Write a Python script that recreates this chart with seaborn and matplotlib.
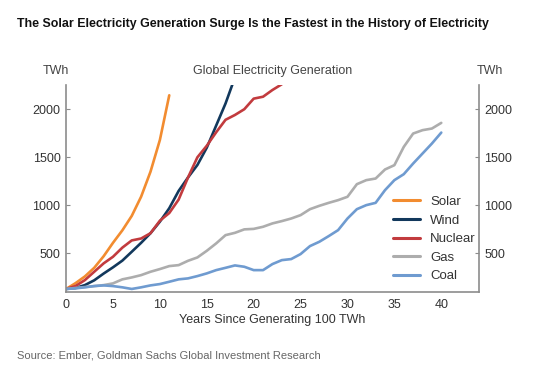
import numpy as np
import pandas as pd
import matplotlib
matplotlib.use("Agg")
import matplotlib.pyplot as plt
import seaborn as sns

# ---- data (TWh, by years since generating 100 TWh) ----
solar = [130, 190, 260, 350, 470, 610, 740, 890, 1090, 1350, 1680, 2145]
wind = [130, 140, 170, 220, 290, 355, 425, 517, 610, 710, 830, 970, 1150,
        1290, 1420, 1600, 1830, 2060, 2330]
nuclear = [130, 160, 222, 309, 396, 465, 560, 635, 655, 710, 840, 920, 1060,
           1290, 1500, 1620, 1760, 1890, 1940, 2000, 2110, 2130, 2200, 2260]
gas = [130, 140, 150, 160, 170, 188, 230, 250, 274, 309, 337, 368, 378, 423,
       458, 527, 604, 690, 714, 750, 755, 777, 812, 836, 863, 898, 960, 995,
       1026, 1054, 1089, 1220, 1262, 1279, 1373, 1418, 1608, 1747, 1782, 1799,
       1858]
coal = [130, 136, 147, 160, 167, 160, 147, 130, 147, 167, 181, 205, 230, 240,
        264, 292, 326, 350, 375, 361, 326, 326, 389, 430, 441, 493, 576, 621,
        680, 742, 863, 960, 1002, 1026, 1158, 1262, 1324, 1435, 1539, 1643,
        1757]

series_names = ["Solar", "Wind", "Nuclear", "Gas", "Coal"]
series_vals = [solar, wind, nuclear, gas, coal]
x_ticks = [0, 5, 10, 15, 20, 25, 30, 35, 40]
y_ticks = [500, 1000, 1500, 2000]

colors = {"Solar": "#F28C30", "Wind": "#12385C", "Nuclear": "#C23B3E",
          "Gas": "#ADADAD", "Coal": "#6F9BD0"}

rows = []
for name, vals in zip(series_names, series_vals):
    for i, v in enumerate(vals):
        rows.append({"year": i, "value": v, "source": name})
df = pd.DataFrame(rows)

sns.set_style("white")
plt.rcParams["font.family"] = ["Liberation Sans", "DejaVu Sans"]

fig = plt.figure(figsize=(5.6, 3.82), dpi=100)
ax = fig.add_axes([0.118, 0.236, 0.737, 0.541])

sns.lineplot(data=df, x="year", y="value", hue="source",
             hue_order=series_names, palette=colors, linewidth=1.9,
             ax=ax, legend=True)

ax.set_xlim(0, 44)
ax.set_ylim(100, 2250)
ax.set_xticks(x_ticks)
ax.set_yticks(y_ticks)
ax.set_xlabel("Years Since Generating 100 TWh", fontsize=9, color="#333333",
              labelpad=2)
ax.set_ylabel("")

for s in ["left", "right", "bottom"]:
    ax.spines[s].set_visible(True)
    ax.spines[s].set_color("#8C8C8C")
    ax.spines[s].set_linewidth(1.2)
ax.spines["top"].set_visible(False)

ax.yaxis.set_ticks_position("both")
ax.tick_params(axis="y", which="both", direction="in", length=3,
               color="#8C8C8C", labelsize=9, labelcolor="#333333",
               labelleft=True, labelright=True, left=True, right=True, pad=4)
ax.tick_params(axis="x", direction="out", length=3, color="#8C8C8C",
               labelsize=9, labelcolor="#333333", pad=2)

leg = ax.legend(loc="upper left", bbox_to_anchor=(0.78, 0.49), frameon=False,
                fontsize=9.5, handlelength=2.0, handletextpad=0.8,
                labelspacing=0.48, borderaxespad=0)
for line in leg.get_lines():
    line.set_linewidth(2.2)
for t in leg.get_texts():
    t.set_color("#333333")

fig.text(0.486, 0.813, "Global Electricity Generation", ha="center",
         va="center", fontsize=9, color="#444444")
fig.text(0.1, 0.813, "TWh", ha="center", va="center", fontsize=9,
         color="#444444")
fig.text(0.875, 0.813, "TWh", ha="center", va="center", fontsize=9,
         color="#444444")

fig.text(0.03, 0.937,
         "The Solar Electricity Generation Surge Is the Fastest in the History of Electricity",
         ha="left", va="center", fontsize=8.9, fontweight="bold",
         color="#111111")
fig.text(0.03, 0.07, "Source: Ember, Goldman Sachs Global Investment Research",
         ha="left", va="center", fontsize=8, color="#666666")

fig.savefig("out.png", dpi=100, facecolor="white")
